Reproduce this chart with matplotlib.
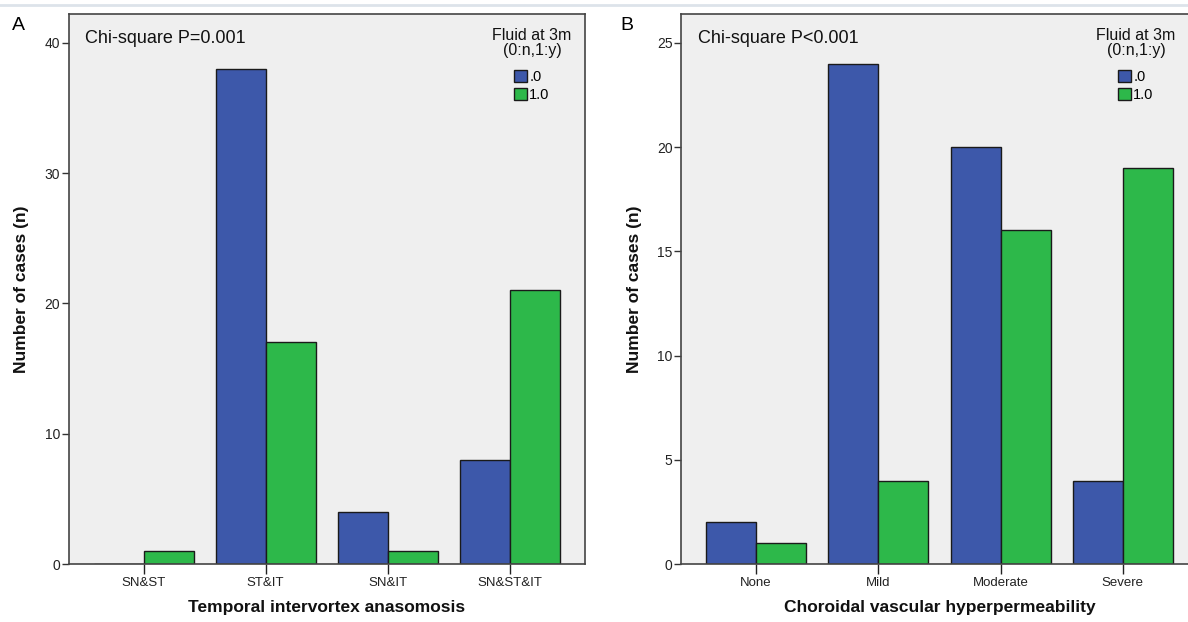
import numpy as np
import matplotlib
matplotlib.use("Agg")
from matplotlib import pyplot as plt
from matplotlib.lines import Line2D

plt.rcParams['font.family'] = ['Liberation Sans', 'DejaVu Sans']

# panel A data
cats_a = ['SN&ST', 'ST&IT', 'SN&IT', 'SN&ST&IT']
no_fluid_a = [0, 38, 4, 8]
fluid_a = [1, 17, 1, 21]

# panel B data
cats_b = ['None', 'Mild', 'Moderate', 'Severe']
no_fluid_b = [2, 24, 20, 4]
fluid_b = [1, 4, 16, 19]

series_labels = ['.0', '1.0']
legend_title = 'Fluid at 3m\n(0:n,1:y)'

BLUE = '#3d58aa'
GREEN = '#2db84a'
BG = '#efefef'
EDGE = '#1a1a1a'

W, H = 1188, 622
fig = plt.figure(figsize=(W / 100, H / 100), dpi=100)


def px_axes(left, top, right, bottom):
    return fig.add_axes([left / W, 1 - bottom / H, (right - left) / W, (bottom - top) / H])


def draw_panel(ax, cats, blue, green, ymax, yticks, chi_text, xlabel, leg_x):
    x = np.arange(len(cats))
    w = 0.41
    ax.set_facecolor(BG)
    ax.bar(x - w / 2, blue, w, color=BLUE, edgecolor=EDGE, linewidth=1, label=series_labels[0], zorder=2)
    ax.bar(x + w / 2, green, w, color=GREEN, edgecolor=EDGE, linewidth=1, label=series_labels[1], zorder=2)
    ax.set_xlim(-0.615, len(cats) - 1 + 0.615)
    ax.set_ylim(0, ymax)
    ax.set_xticks(x)
    ax.set_xticklabels(cats, fontsize=9.5, color='#222222')
    ax.set_yticks(yticks)
    ax.tick_params(axis='y', labelsize=10, length=5, width=1, color='#333333', labelcolor='#222222', pad=1)
    ax.tick_params(axis='x', length=7, width=1, color='#222222', pad=2)
    for s in ax.spines.values():
        s.set_color('#444444')
        s.set_linewidth(1.2)
    ax.text(0.032, 0.955, chi_text, transform=ax.transAxes, fontsize=13, va='center', ha='left', color='#111111')
    ax.set_xlabel(xlabel, fontsize=12.5, fontweight='bold', color='#111111')
    ax.xaxis.set_label_coords(0.5, -0.065)
    ax.set_ylabel('Number of cases (n)', fontsize=12.5, fontweight='bold', color='#111111')
    ax.yaxis.set_label_coords(-0.076, 0.5)

    # legend title as text, entries from the legend
    fig.text((leg_x + 18) / W, 1 - 43 / H, legend_title, fontsize=11.5, ha='center', va='center',
             multialignment='center', linespacing=1.05, color='#111111')
    leg = ax.legend(loc='upper left', bbox_to_anchor=(leg_x / W, 1 - 70 / H),
                    bbox_transform=fig.transFigure, frameon=False, fontsize=10.5,
                    handlelength=0.9, handleheight=0.9, handletextpad=0.15,
                    labelspacing=0.28, borderpad=0, borderaxespad=0)
    for p in leg.get_patches():
        p.set_edgecolor(EDGE)
    return ax


ax_a = px_axes(68.6, 14, 584.6, 564)
draw_panel(ax_a, cats_a, no_fluid_a, fluid_a, 42.2, [0, 10, 20, 30, 40],
           'Chi-square P=0.001', 'Temporal intervortex anasomosis', 514)

ax_b = px_axes(681, 14, 1198, 564)
draw_panel(ax_b, cats_b, no_fluid_b, fluid_b, 26.38, [0, 5, 10, 15, 20, 25],
           'Chi-square P<0.001', 'Choroidal vascular hyperpermeability', 1118)

fig.text(12 / W, 1 - 25 / H, 'A', fontsize=14, va='center', ha='left')
fig.text(620 / W, 1 - 25 / H, 'B', fontsize=14, va='center', ha='left')

fig.add_artist(Line2D([0, 1], [1 - 5 / H, 1 - 5 / H], transform=fig.transFigure, color='#dde3ea', linewidth=2))

fig.savefig('out.png', dpi=100)
